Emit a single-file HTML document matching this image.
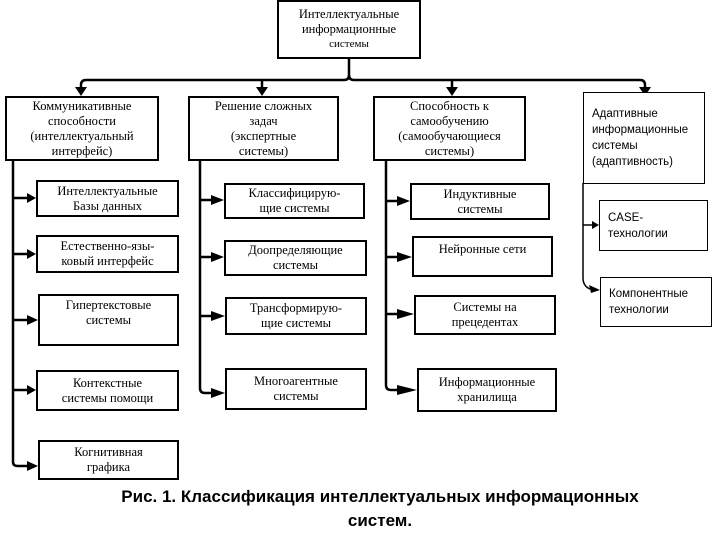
<!DOCTYPE html>
<html><head><meta charset="utf-8"><style>
body{margin:0;width:720px;height:540px;background:#fff;position:relative;overflow:hidden;font-family:"Liberation Serif",serif;}
.b{position:absolute;border:2.5px solid #000;box-sizing:border-box;background:#fff;text-align:center;font-size:12.5px;line-height:15px;color:#000;display:flex;align-items:center;justify-content:center;flex-direction:column;}
.s{font-family:"Liberation Sans",sans-serif;font-size:11.5px;text-align:left;align-items:flex-start;padding-left:8px;border-width:1.5px;line-height:16px;}
.cap{position:absolute;left:40px;width:680px;text-align:center;font-family:"Liberation Sans",sans-serif;font-weight:bold;font-size:17px;line-height:24px;top:485px;}
</style></head><body>
<svg width="720" height="540" style="position:absolute;left:0;top:0">
<g stroke="#000" stroke-width="2.5" fill="none">
<path d="M349 58V75Q349 80 344 80H86Q81 80 81 85V88"/>
<path d="M349 75Q349 80 354 80H640Q645 80 645 85V88"/>
<path d="M262 80V88M452 80V88"/>
<path d="M13 160V462Q13 466 18 466H28"/>
<path d="M13 198H28M13 254H28M13 320H28M13 390H28"/>
<path d="M200 160V388Q200 393 205 393H212"/>
<path d="M200 200H212M200 257H212M200 316H212"/>
<path d="M386 160V385Q386 390 391 390H398"/>
<path d="M386 201H398M386 257H398M386 314H398"/>
<path d="M583 183V278Q583 286 590 289" stroke-width="1.5"/>
<path d="M583 225H592" stroke-width="1.5"/>
</g>
<g fill="#000">
<polygon points="75,87 87,87 81,96"/><polygon points="256,87 268,87 262,96"/><polygon points="446,87 458,87 452,96"/><polygon points="639,87 651,87 645,96"/>
<polygon points="27,193 36,198 27,203"/><polygon points="27,249 36,254 27,259"/><polygon points="27,315 38,320 27,325"/><polygon points="27,385 36,390 27,395"/><polygon points="27,461 38,466 27,471"/>
<polygon points="211,195 224,200 211,205"/><polygon points="211,252 224,257 211,262"/><polygon points="211,311 225,316 211,321"/><polygon points="211,388 225,393 211,398"/>
<polygon points="397,196 410,201 397,206"/><polygon points="397,252 412,257 397,262"/><polygon points="397,309 414,314 397,319"/><polygon points="397,385 417,390 397,395"/>
<polygon points="592,221 599,225 592,229"/><polygon points="589,285 600,290 591,293"/>
</g></svg>
<div class="b" style="left:277px;top:0;width:144px;height:59px">Интеллектуальные<br>информационные<br><span style="font-size:11px">системы</span></div>
<div class="b" style="left:5px;top:96px;width:154px;height:65px">Коммуникативные<br>способности<br>(интеллектуальный<br>интерфейс)</div>
<div class="b" style="left:188px;top:96px;width:151px;height:65px">Решение сложных<br>задач<br>(экспертные<br>системы)</div>
<div class="b" style="left:373px;top:96px;width:153px;height:65px">Способность к<br>самообучению<br>(самообучающиеся<br>системы)</div>
<div class="b s" style="left:583px;top:92px;width:122px;height:92px">Адаптивные<br>информационные<br>системы<br>(адаптивность)</div>
<div class="b s" style="left:599px;top:200px;width:109px;height:51px">CASE-<br>технологии</div>
<div class="b s" style="left:600px;top:277px;width:112px;height:50px">Компонентные<br>технологии</div>
<div class="b" style="left:36px;top:180px;width:143px;height:37px">Интеллектуальные<br>Базы данных</div>
<div class="b" style="left:36px;top:235px;width:143px;height:38px">Естественно-язы-<br>ковый интерфейс</div>
<div class="b" style="left:38px;top:294px;width:141px;height:52px">Гипертекстовые<br>системы<br>&nbsp;</div>
<div class="b" style="left:36px;top:370px;width:143px;height:41px">Контекстные<br>системы помощи</div>
<div class="b" style="left:38px;top:440px;width:141px;height:40px">Когнитивная<br>графика</div>
<div class="b" style="left:224px;top:183px;width:141px;height:36px">Классифицирую-<br>щие системы</div>
<div class="b" style="left:224px;top:240px;width:143px;height:36px">Доопределяющие<br>системы</div>
<div class="b" style="left:225px;top:297px;width:142px;height:38px">Трансформирую-<br>щие системы</div>
<div class="b" style="left:225px;top:368px;width:142px;height:42px">Многоагентные<br>системы</div>
<div class="b" style="left:410px;top:183px;width:140px;height:37px">Индуктивные<br>системы</div>
<div class="b" style="left:412px;top:236px;width:141px;height:41px">Нейронные сети<br>&nbsp;</div>
<div class="b" style="left:414px;top:295px;width:142px;height:40px">Системы на<br>прецедентах</div>
<div class="b" style="left:417px;top:368px;width:140px;height:44px">Информационные<br>хранилища</div>
<div class="cap">Рис. 1. Классификация интеллектуальных информационных<br>систем.</div>
</body></html>
